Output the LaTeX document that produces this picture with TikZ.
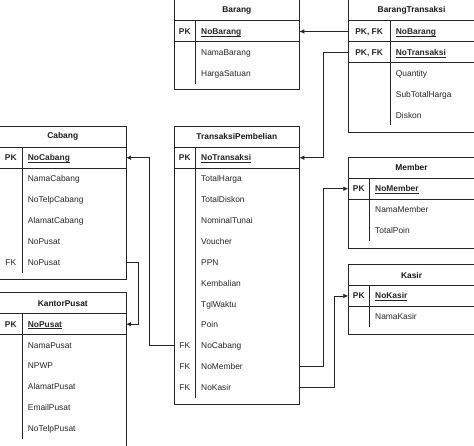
\documentclass[tikz,border=0pt]{standalone}
\usepackage{fontspec}
\setmainfont{Liberation Sans}
\usetikzlibrary{arrows.meta}
\newcommand{\ERf}{\fontsize{8.4}{10}\selectfont}
\newcommand{\ERsetup}[4]{\def\TBx{#1}\def\TBt{#2}\def\TBw{#3}\def\TBk{#4}}
\newcommand{\ERbox}[4]{% id, bottom, title, rows end
  \node[frame, minimum width=\TBw, minimum height={#2-\TBt}] (#1) at (\TBx,\TBt) {};
  \node[titletxt] (#1-title) at (\TBx+\TBw/2, \TBt+10.5) {#3};
  \draw[tline] (\TBx, \TBt+21) -- ++(\TBw,0);
  \draw[tline] (\TBx+\TBk, \TBt+21) -- (\TBx+\TBk, #4);
}
\newcommand{\ERrow}[3]{% id, y centre, text
  \node[rowbox, minimum width=\TBw] (#1) at (\TBx+\TBw/2, #2) {};
  \node[nametxt] (#1-name) at (\TBx+\TBk+5.5, #2) {#3};
}
\newcommand{\ERkrow}[4]{% id, y centre, key, text
  \ERrow{#1}{#2}{#4}
  \node[keytxt] (#1-key) at (\TBx+\TBk/2, #2) {#3};
}
\newcommand{\ERpk}[4]{% id, y centre, key, text
  \node[rowbox, minimum width=\TBw] (#1) at (\TBx+\TBw/2, #2) {};
  \node[keytxt, font=\ERf\bfseries] (#1-key) at (\TBx+\TBk/2, #2) {#3};
  \node[nametxt, font=\ERf\bfseries] (#1-name) at (\TBx+\TBk+5.5, #2) {\underline{\smash{#4}}};
  \draw[tline] (\TBx, #2+10.45) -- ++(\TBw,0);
}
\begin{document}
\begin{tikzpicture}[x=1pt,y=-1pt,
  line width=0.8pt,
  frame/.style={draw=black!85, fill=white, inner sep=0pt, outer sep=0pt, anchor=north west},
  tline/.style={draw=black!85},
  titletxt/.style={font=\ERf\bfseries, text=black!90, inner sep=0pt},
  rowbox/.style={inner sep=0pt, outer sep=0pt, minimum height=20.9},
  keytxt/.style={font=\ERf, text=black!85, inner sep=0pt, text height=6pt, text depth=0pt},
  nametxt/.style={font=\ERf, text=black!85, inner sep=0pt, anchor=west, text height=6pt, text depth=0pt},
  fkline/.style={draw=black!85, -{Latex[length=5pt,width=4.5pt]}}
]
\useasboundingbox (0,0) rectangle (474,446);
\clip (0,0) rectangle (474,446);

% Barang
\ERsetup{174.3}{-0.3}{125}{21}
\ERbox{barang}{89.9}{Barang}{83.7}
\ERpk{barang-nobarang}{31.45}{PK}{NoBarang}
\ERrow{barang-nama}{52.35}{NamaBarang}
\ERrow{barang-harga}{73.25}{HargaSatuan}

% BarangTransaksi
\ERsetup{348.3}{-0.3}{126.5}{41.7}
\ERbox{bt}{132.2}{BarangTransaksi}{125.5}
\ERpk{bt-nobarang}{31.45}{PK, FK}{NoBarang}
\ERpk{bt-notrans}{52.35}{PK, FK}{NoTransaksi}
\ERrow{bt-qty}{73.25}{Quantity}
\ERrow{bt-sub}{94.15}{SubTotalHarga}
\ERrow{bt-diskon}{115.05}{Diskon}

% Cabang
\ERsetup{-0.5}{126.3}{126.5}{22.5}
\ERbox{cabang}{279.3}{Cabang}{272.7}
\ERpk{cabang-nocabang}{157.75}{PK}{NoCabang}
\ERrow{cabang-nama}{178.65}{NamaCabang}
\ERrow{cabang-telp}{199.55}{NoTelpCabang}
\ERrow{cabang-alamat}{220.45}{AlamatCabang}
\ERrow{cabang-nopusat}{241.35}{NoPusat}
\ERkrow{cabang-fknopusat}{262.25}{FK}{NoPusat}

% KantorPusat
\ERsetup{-0.5}{292.7}{126.5}{22.5}
\ERbox{kp}{446.5}{KantorPusat}{439.1}
\ERpk{kp-nopusat}{324.15}{PK}{NoPusat}
\ERrow{kp-nama}{345.05}{NamaPusat}
\ERrow{kp-npwp}{365.95}{NPWP}
\ERrow{kp-alamat}{386.85}{AlamatPusat}
\ERrow{kp-email}{407.75}{EmailPusat}
\ERrow{kp-telp}{428.65}{NoTelpPusat}

% TransaksiPembelian
\ERsetup{174.3}{126.3}{125}{21}
\ERbox{tp}{404.4}{TransaksiPembelian}{398.1}
\ERpk{tp-notrans}{157.75}{PK}{NoTransaksi}
\ERrow{tp-total}{178.65}{TotalHarga}
\ERrow{tp-diskon}{199.55}{TotalDiskon}
\ERrow{tp-tunai}{220.45}{NominalTunai}
\ERrow{tp-voucher}{241.35}{Voucher}
\ERrow{tp-ppn}{262.25}{PPN}
\ERrow{tp-kembali}{283.15}{Kembalian}
\ERrow{tp-tgl}{304.05}{TglWaktu}
\ERrow{tp-poin}{324.95}{Poin}
\ERkrow{tp-nocabang}{345.85}{FK}{NoCabang}
\ERkrow{tp-nomember}{366.75}{FK}{NoMember}
\ERkrow{tp-nokasir}{387.65}{FK}{NoKasir}

% Member
\ERsetup{348.3}{157.3}{126.5}{21}
\ERbox{member}{248}{Member}{241}
\ERpk{member-nomember}{188.75}{PK}{NoMember}
\ERrow{member-nama}{209.65}{NamaMember}
\ERrow{member-poin}{230.55}{TotalPoin}

% Kasir
\ERsetup{348.3}{264.5}{126.5}{21}
\ERbox{kasir}{334}{Kasir}{327.3}
\ERpk{kasir-nokasir}{295.95}{PK}{NoKasir}
\ERrow{kasir-nama}{316.85}{NamaKasir}

% Connectors
\draw[fkline] (bt-nobarang.west) -- (barang-nobarang.east);
\draw[fkline] (bt-notrans.west) -- ++(-25,0) |- (tp-notrans.east);
\draw[fkline] (tp-nocabang.west) -- ++(-25,0) |- (cabang-nocabang.east);
\draw[fkline] (cabang-fknopusat.east) -- ++(12.7,0) |- (kp-nopusat.east);
\draw[fkline] (tp-nomember.east) -- ++(24,0) |- (member-nomember.west);
\draw[fkline] (tp-nokasir.east) -- ++(35,0) |- (kasir-nokasir.west);
\end{tikzpicture}
\end{document}
